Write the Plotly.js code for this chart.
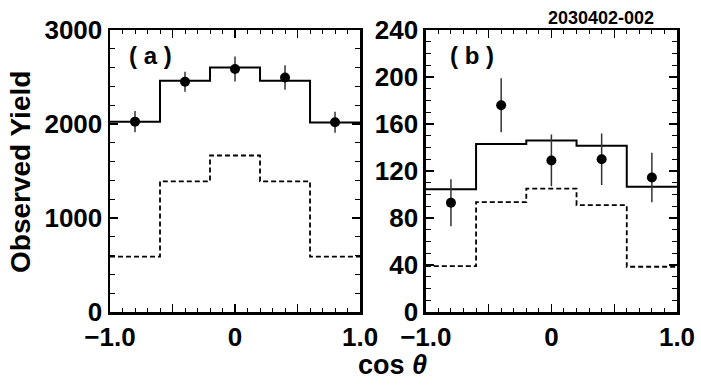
<!DOCTYPE html>
<html>
<head>
<meta charset="utf-8">
<script src="https://cdn.plot.ly/plotly-3.0.1.min.js"></script>
<style>
  body { margin: 0; background: #fff; }
  #chart { width: 701px; height: 386px; }
  #err { position: absolute; top: 0; left: 0; font: 10px monospace; color: red; }
</style>
</head>
<body>
<div id="chart"></div>
<div id="err"></div>
<script>
window.onerror = function (m) { document.getElementById('err').textContent += ' ' + m; };

// bin edges and centres in cos(theta)
var edges = [-1.0, -0.6, -0.2, 0.2, 0.6, 1.0];
var centers = [-0.8, -0.4, 0.0, 0.4, 0.8];

// panel (a)
var fitA = [2025, 2460, 2600, 2460, 2015];
var bkgA = [590, 1390, 1665, 1390, 590];
var yieldA = [2025, 2450, 2585, 2495, 2018];
var errA = [112, 107, 132, 130, 112];

// panel (b)
var fitB = [104.5, 143, 146, 141.5, 106.5];
var bkgB = [39, 93.5, 105, 91, 38.5];
var yieldB = [93, 176, 129, 130, 114.5];
var errB = [20, 23, 22, 22, 21];

var xTickVals = [-1, -0.5, 0, 0.5, 1];
var xTickText = ['\u22121.0', '', '0', '', '1.0'];

function stepY(vals) {
  return vals.concat([vals[vals.length - 1]]);
}

function histTrace(vals, xa, ya, dash) {
  return {
    x: edges, y: stepY(vals), xaxis: xa, yaxis: ya,
    type: 'scatter', mode: 'lines',
    line: { shape: 'hv', color: 'black', width: dash ? 1.8 : 2, dash: dash || 'solid' },
    hoverinfo: 'skip'
  };
}

function dataTrace(vals, errs, xa, ya) {
  return {
    x: centers, y: vals, xaxis: xa, yaxis: ya,
    type: 'scatter', mode: 'markers',
    marker: { color: 'black', size: 10 },
    error_y: { type: 'data', array: errs, width: 0, thickness: 1.5, color: '#333' }
  };
}

var traces = [
  histTrace(bkgA, 'x', 'y', '5px,3px'),
  histTrace(fitA, 'x', 'y'),
  dataTrace(yieldA, errA, 'x', 'y'),
  histTrace(bkgB, 'x2', 'y2', '5px,3px'),
  histTrace(fitB, 'x2', 'y2'),
  dataTrace(yieldB, errB, 'x2', 'y2')
];

var tickFont = { family: 'Liberation Sans, Arial, sans-serif', size: 26, color: 'black', weight: 'bold' };

function xAxis(domain, anchor) {
  return {
    domain: domain, anchor: anchor, range: [-1, 1],
    tickmode: 'array', tickvals: xTickVals, ticktext: xTickText,
    ticks: 'inside', ticklen: 8, tickwidth: 1.2, tickcolor: 'black',
    minor: { tickmode: 'linear', tick0: -1, dtick: 0.1, ticks: 'inside', ticklen: 4, tickwidth: 1, tickcolor: 'black' },
    showline: true, linewidth: 2.5, linecolor: 'black', mirror: 'ticks',
    showgrid: false, zeroline: false, tickfont: tickFont
  };
}

function yAxis(range, dtick, minorDtick, anchor) {
  return {
    anchor: anchor, domain: [0, 1], range: range,
    tickmode: 'linear', tick0: 0, dtick: dtick, tickformat: 'd',
    ticks: 'inside', ticklen: 8, tickwidth: 1.2, tickcolor: 'black',
    minor: { tickmode: 'linear', tick0: 0, dtick: minorDtick, ticks: 'inside', ticklen: 5, tickwidth: 1, tickcolor: 'black' },
    showline: true, linewidth: 2.5, linecolor: 'black', mirror: 'ticks',
    showgrid: false, zeroline: false, tickfont: tickFont
  };
}

var textFont = { family: 'Liberation Sans, Arial, sans-serif', color: 'black', weight: 'bold' };

function label(text, x, y, size, angle) {
  return {
    text: text, xref: 'paper', yref: 'paper', x: x, y: y,
    xanchor: 'center', yanchor: 'middle', textangle: angle || 0,
    showarrow: false, font: Object.assign({ size: size }, textFont)
  };
}

var layout = {
  width: 701, height: 386,
  margin: { l: 110, r: 24, t: 30, b: 74 },
  paper_bgcolor: 'white', plot_bgcolor: 'white',
  showlegend: false,
  xaxis: xAxis([0, 0.441], 'y'),
  yaxis: yAxis([0, 3000], 1000, 200, 'x'),
  xaxis2: xAxis([0.557, 1], 'y2'),
  yaxis2: yAxis([0, 240], 40, 10, 'x2'),
  annotations: [
    label('( a )', 0.0723, 0.911, 24),
    label('( b )', 0.638, 0.911, 24),
    label('2030402-002', 0.866, 1.041, 18),
    label('Observed Yield', -0.159, 0.496, 28, -90),
    label('cos <i>\u03b8</i>', 0.499, -0.188, 27)
  ]
};

Plotly.newPlot('chart', traces, layout, { displayModeBar: false, staticPlot: true })
  .catch(function (e) { document.getElementById('err').textContent += ' ' + e; });
</script>
</body>
</html>
